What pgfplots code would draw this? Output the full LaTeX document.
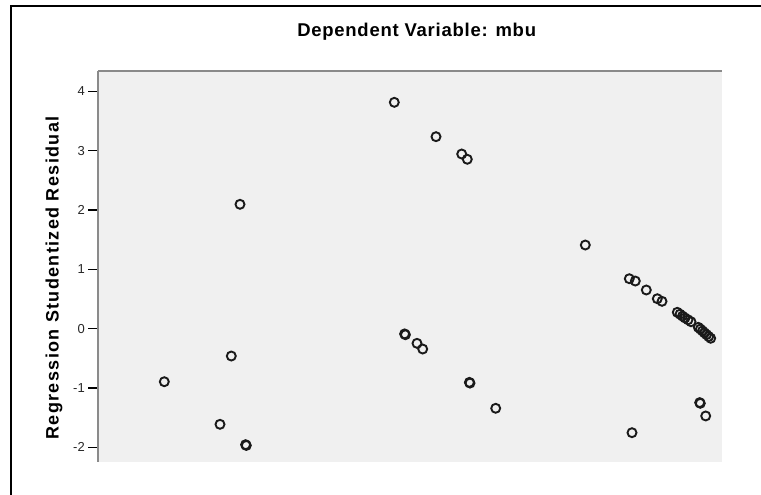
\documentclass[border=0pt]{standalone}
\usepackage{fontspec}
\setmainfont{Liberation Sans}
\newfontfamily\tfont[LetterSpace=4]{Liberation Sans}
\newfontfamily\lfont[LetterSpace=7.5]{Liberation Sans}
\usepackage{pgfplots}
\pgfplotsset{compat=1.18}
\definecolor{bgc}{HTML}{F0F0F0}
\definecolor{axc}{HTML}{8A8A8A}
\definecolor{mkc}{HTML}{1A1A1A}
\begin{document}
\begin{tikzpicture}[x=1pt,y=1pt]
\useasboundingbox (0,0) rectangle (761,495);
\draw[line width=2pt] (11,-10) -- (11,489.3) -- (790,489.3);
\begin{axis}[
  at={(98pt,33pt)}, anchor=south west,
  scale only axis, width=624pt, height=391pt,
  xmin=98, xmax=722, ymin=-2.247, ymax=4.343,
  axis x line*=top, axis y line*=left,
  xtick=\empty, ytick={-2,-1,0,1,2,3,4},
  tick align=outside, major tick length=10pt,
  ytick style={black, line width=1.1pt},
  axis line style={draw=axc, line width=1.6pt},
  axis background/.style={fill=bgc},
  /pgf/number format/assume math mode=true,
  yticklabel style={font=\fontsize{13}{15}\selectfont, text=black!85, inner sep=0pt, anchor=east, xshift=-3pt},
  title={\fontsize{18.5}{21}\selectfont\tfont\bfseries Dependent Variable: mbu},
  title style={at={(axis description cs:0.5107,1.0734)}, anchor=base, inner sep=0pt},
  ylabel={\fontsize{18}{21}\selectfont\lfont\bfseries Regression Studentized Residual},
  ylabel style={at={(axis description cs:-0.0630,0.4706)}, anchor=base, rotate=0, inner sep=0pt},
]
\addplot[only marks, mark=o, mark size=4.5pt, mkc, line width=1.9pt] table {
x y
164.3 -0.894
220.0 -1.612
231.3 -0.461
240.0 2.096
245.6 -1.955
246.3 -1.968
394.3 3.815
404.6 -0.088
405.4 -0.102
417.0 -0.247
422.7 -0.343
436.0 3.236
461.7 2.944
467.3 2.855
469.4 -0.905
470.0 -0.917
495.7 -1.342
585.3 1.410
629.3 0.842
635.3 0.803
632.0 -1.753
646.3 0.652
657.3 0.505
662.0 0.461
677.3 0.276
680.0 0.244
682.5 0.212
685.0 0.181
688.0 0.150
691.0 0.117
698.3 0.023
700.4 -0.007
702.5 -0.038
704.5 -0.070
706.6 -0.100
708.7 -0.132
710.7 -0.162
699.7 -1.246
700.3 -1.258
705.7 -1.471
};
\end{axis}
\end{tikzpicture}
\end{document}
